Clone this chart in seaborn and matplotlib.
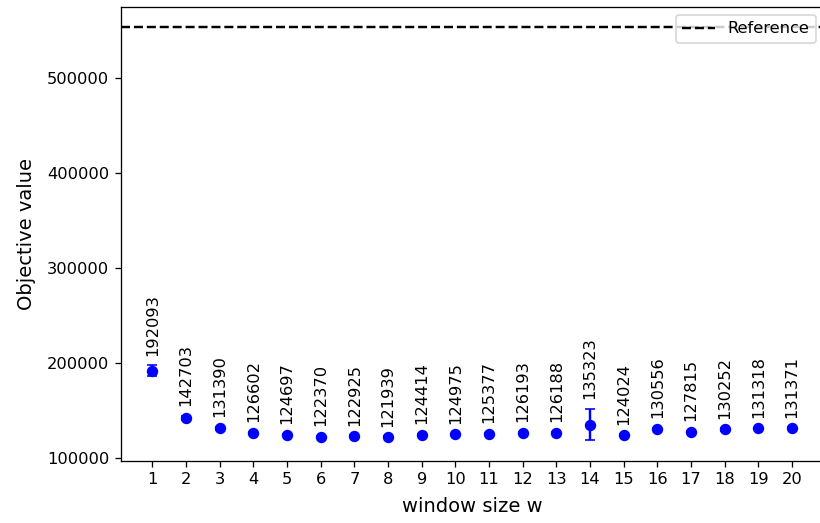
import matplotlib
matplotlib.use("Agg")
import matplotlib.pyplot as plt
import seaborn as sns
import numpy as np
import pandas as pd

# Window sizes tested and the mean objective value reached for each
window_sizes = list(range(1, 21))
mean_objective = [192093, 142703, 131390, 126602, 124697, 122370, 122925, 121939,
                  124414, 124975, 125377, 126193, 126188, 135323, 124024, 130556,
                  127815, 130252, 131318, 131371]
std_objective = [5500, 2000, 1500, 1200, 1200, 1000, 1000, 1000, 1200, 1000,
                 1200, 1200, 1200, 16500, 1000, 1200, 1000, 1200, 1000, 1000]
reference_value = 553000

df = pd.DataFrame({"w": window_sizes, "mean": mean_objective, "std": std_objective})

DPI = 117
fig = plt.figure(figsize=(820 / DPI, 523 / DPI), dpi=DPI)
ax = fig.add_axes([120.5 / 820, 62 / 523, 703.5 / 820, 454.3 / 523])

ax.errorbar(df["w"], df["mean"], yerr=df["std"], fmt="none",
            ecolor="blue", capsize=3, elinewidth=1.5)
sns.scatterplot(data=df, x="w", y="mean", ax=ax, s=36, color="blue",
                edgecolor="blue", linewidth=1, legend=False, zorder=3)

ax.axhline(reference_value, color="black", linestyle="--", linewidth=1.5,
           label="Reference")

for w, m, s in zip(df["w"], df["mean"], df["std"]):
    ax.annotate(f"{m}", xy=(w, m + s), xytext=(0, 6), textcoords="offset points",
                ha="center", va="bottom", rotation=90, fontsize=10)

ax.set_xticks(window_sizes)
ax.set_xlabel("window size w", fontsize=12, labelpad=6)
ax.set_ylabel("Objective value", fontsize=12, labelpad=7)
ax.legend(loc="upper right")

fig.savefig("out.png", dpi=DPI)
